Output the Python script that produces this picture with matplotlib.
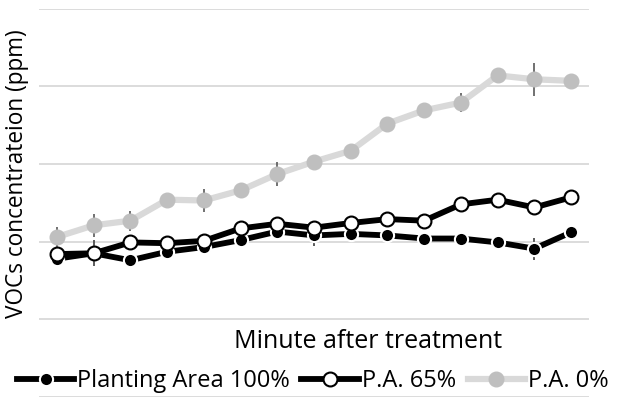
import matplotlib
matplotlib.use('Agg')
import matplotlib.pyplot as plt
import numpy as np

plt.rcParams['font.family'] = ['Open Sans', 'DejaVu Sans']

# 15 time points (x labels are not shown in the chart)
minutes = list(range(15))

# VOCs concentration (grid step = 1 unit)
area_100 = [1.78, 1.85, 1.76, 1.87, 1.93, 2.02, 2.13, 2.08, 2.10, 2.08, 2.04, 2.04, 1.99, 1.91, 2.12]
area_100_err = [0.08, 0.17, 0.05, 0.05, 0.05, 0.05, 0.06, 0.13, 0.08, 0.05, 0.05, 0.05, 0.05, 0.14, 0.05]

area_65 = [1.84, 1.85, 1.99, 1.98, 2.01, 2.17, 2.23, 2.18, 2.24, 2.29, 2.27, 2.48, 2.54, 2.44, 2.57]
area_65_err = [0.05] * 15

area_0 = [2.06, 2.21, 2.27, 2.54, 2.53, 2.66, 2.87, 3.03, 3.17, 3.52, 3.69, 3.79, 4.14, 4.09, 4.07]
area_0_err = [0.13, 0.15, 0.13, 0.05, 0.15, 0.10, 0.15, 0.05, 0.05, 0.05, 0.07, 0.12, 0.05, 0.21, 0.05]

fig = plt.figure(figsize=(6.25, 4), dpi=100)
ax = fig.add_axes([0.0618, 0.0075, 0.8813, 0.971])

# error bars sit behind the lines
ax.errorbar(minutes, area_100, yerr=area_100_err, fmt='none', ecolor='#404040', elinewidth=1.2, zorder=1)
ax.errorbar(minutes, area_65, yerr=area_65_err, fmt='none', ecolor='#404040', elinewidth=1.2, zorder=1)
ax.errorbar(minutes, area_0, yerr=area_0_err, fmt='none', ecolor='#595959', elinewidth=1.2, zorder=1)

ax.plot(minutes, area_100, color='black', lw=4.2, marker='o', ms=9.5,
        mfc='black', mec='white', mew=1.5, label='Planting Area 100%', zorder=3)
ax.plot(minutes, area_65, color='black', lw=4.2, marker='o', ms=10,
        mfc='white', mec='black', mew=1.5, label='P.A. 65%', zorder=4)
ax.plot(minutes, area_0, color='#D9D9D9', lw=4.5, marker='o', ms=10.5,
        mfc='#BFBFBF', mec='#BFBFBF', mew=1, label='P.A. 0%', zorder=5)

ax.set_xlim(-0.5, 14.5)
ax.set_ylim(0, 5)
ax.set_yticks([0, 1, 2, 3, 4, 5])
ax.grid(axis='y', color='#D9D9D9', lw=1.3, zorder=0)
ax.set_axisbelow(True)
ax.tick_params(left=False, bottom=False, labelleft=False, labelbottom=False)
for s in ax.spines.values():
    s.set_visible(False)

fig.text(0.589, 0.147, 'Minute after treatment', fontsize=18, ha='center', va='center')
fig.text(0.028, 0.565, 'VOCs concentrateion (ppm)', fontsize=16.3, rotation=90, ha='center', va='center')

fig.legend(loc='center', bbox_to_anchor=(0.5, 0.047), ncol=3, frameon=False,
           fontsize=17, handlelength=2.45, handletextpad=0.1, columnspacing=0.5,
           borderaxespad=0)

fig.savefig('out.png', dpi=100)
